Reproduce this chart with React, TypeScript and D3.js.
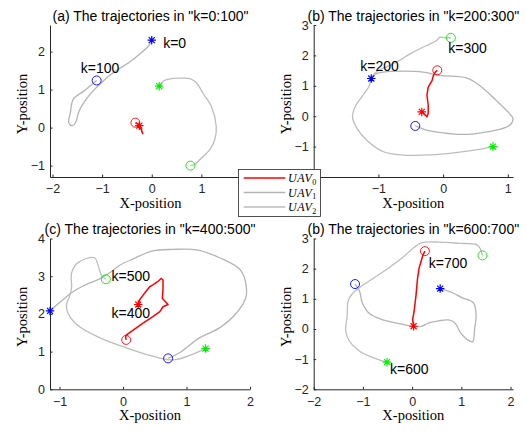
import React, { useRef, useEffect } from 'react'
import * as d3 from 'd3'

type P = [number, number]

// ---- (a) k=0:100
const uav0A: P[] = [[-0.25, 0.05], [-0.22, 0.0], [-0.2, -0.1], [-0.18, -0.16], [-0.21, -0.05], [-0.26, 0.02], [-0.24, 0.07], [-0.29, 0.1], [-0.33, 0.13]]
const uav1A: P[] = [[0, 2.3], [-0.07, 2.14], [-0.23, 1.95], [-0.43, 1.74], [-0.63, 1.57], [-0.83, 1.39], [-1.0, 1.2], [-1.17, 0.98], [-1.33, 0.73], [-1.47, 0.42], [-1.53, 0.14], [-1.6, 0.05], [-1.67, 0.12], [-1.64, 0.39], [-1.58, 0.75], [-1.37, 0.96], [-1.11, 1.24]]
const uav2A: P[] = [[0.15, 1.09], [0.23, 1.22], [0.37, 1.28], [0.57, 1.3], [0.77, 1.29], [0.9, 1.18], [1.03, 0.91], [1.2, 0.56], [1.3, 0.03], [1.27, -0.32], [1.17, -0.58], [0.97, -0.84], [0.87, -0.97], [0.78, -1.0]]
const labelsA = [{ text: 'k=0', x: 0.23, y: 2.24 }, { text: 'k=100', x: -1.43, y: 1.57 }]

// ---- (b) k=200:300
const uav0B: P[] = [[-0.33, 0.14], [-0.3, 0.09], [-0.25, -0.02], [-0.23, 0.09], [-0.23, 0.36], [-0.25, 0.69], [-0.23, 0.96], [-0.17, 1.18], [-0.15, 1.34], [-0.12, 1.45], [-0.09, 1.51]]
const uav1B: P[] = [[-1.11, 1.24], [-1.05, 1.38], [-0.92, 1.45], [-0.62, 1.48], [-0.31, 1.45], [-0.05, 1.34], [0.36, 1.26], [0.56, 1.02], [0.82, 0.52], [1.05, 0.03], [1.08, -0.08], [1.03, -0.3], [0.82, -0.46], [0.51, -0.57], [0.26, -0.6], [0, -0.55], [-0.26, -0.46], [-0.36, -0.38], [-0.43, -0.32]]
const uav2B: P[] = [[0.77, -1.0], [0.51, -1.11], [0.1, -1.22], [-0.31, -1.28], [-0.62, -1.28], [-0.92, -1.17], [-1.18, -0.79], [-1.33, -0.4], [-1.4, -0.04], [-1.36, 0.31], [-1.26, 0.63], [-1.15, 0.96], [-1.1, 1.29], [-1.0, 1.51], [-0.82, 1.67], [-0.67, 1.84], [-0.51, 2.05], [-0.36, 2.22], [-0.2, 2.38], [-0.1, 2.49], [-0.05, 2.6], [0.03, 2.58], [0.12, 2.58]]
const labelsB = [{ text: 'k=200', x: -1.28, y: 1.64 }, { text: 'k=300', x: 0.08, y: 2.23 }]

// ---- (c) k=400:500
const uav0C: P[] = [[0.24, 2.25], [0.26, 2.37], [0.34, 2.55], [0.42, 2.72], [0.47, 2.77], [0.55, 2.86], [0.6, 2.94], [0.63, 2.9], [0.63, 2.68], [0.62, 2.41], [0.71, 2.25], [0.63, 2.19], [0.58, 2.06], [0.47, 1.93], [0.31, 1.75], [0.16, 1.57], [0.05, 1.44], [0.04, 1.37], [0.05, 1.31]]
const uav1C: P[] = [[-1.15, 2.08], [-0.97, 2.34], [-0.81, 2.56], [-0.63, 2.74], [-0.37, 2.93], [-0.21, 3.09], [-0.05, 3.29], [0.16, 3.46], [0.47, 3.67], [0.79, 3.71], [1.16, 3.7], [1.52, 3.49], [1.86, 3.14], [1.94, 2.47], [1.79, 2.03], [1.52, 1.63], [1.21, 1.37], [0.89, 0.97], [0.71, 0.82]]
const uav2C: P[] = [[1.3, 1.08], [0.79, 0.78], [0.47, 0.88], [0.05, 1.1], [-0.37, 1.37], [-0.73, 1.72], [-0.87, 2.03], [-0.89, 2.25], [-0.84, 2.47], [-0.81, 2.7], [-0.81, 3.09], [-0.71, 3.36], [-0.45, 3.49], [-0.39, 3.27], [-0.34, 3.02], [-0.27, 2.92]]
const labelsC = [{ text: 'k=500', x: -0.18, y: 3.0 }, { text: 'k=400', x: -0.18, y: 2.03 }]

// ---- (d) k=600:700
const uav0D: P[] = [[0.03, 0.09], [0.01, 0.31], [0.04, 0.58], [0.08, 1.13], [0.11, 1.68], [0.14, 2.01], [0.18, 2.23], [0.22, 2.45], [0.26, 2.58]]
const uav1D: P[] = [[0.57, 1.34], [0.81, 1.21], [1.01, 1.04], [1.25, 0.86], [1.3, 0.44], [1.27, 0.0], [1.23, -0.42], [1.12, -0.35], [0.98, -0.11], [0.87, 0.2], [0.74, 0.3], [0.54, 0.27], [0.34, 0.2], [0.19, 0.09], [0.03, 0.08], [-0.2, 0.16], [-0.61, 0.31], [-0.88, 0.53], [-1.01, 0.86], [-1.07, 1.26], [-1.16, 1.49]]
const uav2D: P[] = [[-0.51, -1.1], [-0.81, -0.94], [-1.08, -0.72], [-1.28, -0.39], [-1.35, -0.06], [-1.32, 0.44], [-1.3, 0.93], [-1.22, 1.16], [-1.02, 1.43], [-0.74, 1.73], [-0.47, 2.03], [-0.2, 2.36], [0.03, 2.69], [0.2, 2.86], [0.54, 2.88], [0.95, 2.84], [1.32, 2.79], [1.39, 2.64], [1.43, 2.44]]
const labelsD = [{ text: 'k=700', x: 0.34, y: 2.2 }, { text: 'k=600', x: -0.45, y: -1.31 }]

const titles = ['(a) The trajectories in "k=0:100"', '(b) The trajectories in "k=200:300"', '(c) The trajectories in "k=400:500"', '(b) The trajectories in "k=600:700"']
// tick labels hidden behind the legend are left out
const xTicksA = [-2, -1, 0, 1]
const yTicksA = [-1, 0, 1, 2]
const xTicksB = [-1, 0, 1]
const yTicksB = [-1, 0, 1, 2, 3]
const xTicksC = [-1, 0, 1, 2]
const yTicksC = [0, 1, 2, 3, 4]
const xTicksD = [-2, -1, 0, 1, 2]
const yTicksD = [-2, -1, 0, 1, 2, 3]
const legendNames = ['0', '1', '2']

const RED = '#ff0000'
const GRAY1 = '#b4b4b4'
const GRAY2 = '#bdbdbd'
const BLUE = '#0000ff'
const GREEN = '#00ee00'
const SANS = 'Liberation Sans, Arial, sans-serif'
const SERIF = 'Liberation Serif, Times New Roman, serif'

const asterisk = {
    draw(ctx: any, size: number) {
        const r = Math.sqrt(size) / 2
        const d = r * 0.7071
        ctx.moveTo(-r, 0); ctx.lineTo(r, 0)
        ctx.moveTo(0, -r); ctx.lineTo(0, r)
        ctx.moveTo(-d, -d); ctx.lineTo(d, d)
        ctx.moveTo(-d, d); ctx.lineTo(d, -d)
    }
}

export default function App() {
    const svgRef = useRef<SVGSVGElement>(null)

    useEffect(() => {
        if (!svgRef.current) return
        const svg = d3.select(svgRef.current)
        svg.selectAll('*').remove()

        const panels = [
            { title: titles[0], xd: [-2.05, 2], yd: [-1.3, 2.7], x0: 50, x1: 251, y0: 25, y1: 177, xt: xTicksA, yt: yTicksA, u0: uav0A, u1: uav1A, u2: uav2A, labels: labelsA },
            { title: titles[1], xd: [-2, 1.08], yd: [-2, 3], x0: 313.7, x1: 513, y0: 25, y1: 177, xt: xTicksB, yt: yTicksB, u0: uav0B, u1: uav1B, u2: uav2B, labels: labelsB },
            { title: titles[2], xd: [-1.15, 2], yd: [0, 4], x0: 50, x1: 250, y0: 238.5, y1: 389.3, xt: xTicksC, yt: yTicksC, u0: uav0C, u1: uav1C, u2: uav2C, labels: labelsC },
            { title: titles[3], xd: [-2, 2.05], yd: [-2, 3], x0: 313.7, x1: 513, y0: 238.5, y1: 389.3, xt: xTicksD, yt: yTicksD, u0: uav0D, u1: uav1D, u2: uav2D, labels: labelsD },
        ]

        panels.forEach(p => {
            const x = d3.scaleLinear().domain(p.xd).range([p.x0, p.x1])
            const y = d3.scaleLinear().domain(p.yd).range([p.y1, p.y0])
            const g = svg.append('g')

            // axes
            g.append('g')
                .attr('transform', `translate(0,${p.y1})`)
                .call(d3.axisBottom(x).tickValues(p.xt).tickSize(-2.5).tickPadding(5).tickSizeOuter(0).tickFormat(d3.format('d')))
                .call(a => a.selectAll('line').attr('stroke', '#262626'))
                .call(a => a.select('.domain').attr('stroke', '#262626'))
                .call(a => a.selectAll('text').attr('fill', '#262626').style('font-family', SANS).style('font-size', '12.5px').attr('dy', '0.9em'))
            g.append('g')
                .attr('transform', `translate(${p.x0},0)`)
                .call(d3.axisLeft(y).tickValues(p.yt).tickSize(-2.5).tickPadding(5).tickSizeOuter(0).tickFormat(d3.format('d')))
                .call(a => a.selectAll('line').attr('stroke', '#262626'))
                .call(a => a.select('.domain').attr('stroke', '#262626'))
                .call(a => a.selectAll('text').attr('fill', '#262626').style('font-family', SANS).style('font-size', '12.5px'))

            g.append('text')
                .attr('x', (p.x0 + p.x1) / 2).attr('y', p.y0 - 4.5)
                .attr('text-anchor', 'middle')
                .style('font-family', SANS).style('font-size', '14px')
                .text(p.title)
            g.append('text')
                .attr('x', (p.x0 + p.x1) / 2).attr('y', p.y1 + 31)
                .attr('text-anchor', 'middle')
                .style('font-family', SERIF).style('font-size', '14.5px')
                .text('X-position')
            g.append('text')
                .attr('transform', `translate(${p.x0 - 23},${(p.y0 + p.y1) / 2 + 3}) rotate(-90)`)
                .attr('text-anchor', 'middle')
                .style('font-family', SERIF).style('font-size', '14.5px')
                .text('Y-position')

            const smooth = d3.line<P>().x(d => x(d[0])).y(d => y(d[1])).curve(d3.curveCatmullRom.alpha(0.5))
            const straight = d3.line<P>().x(d => x(d[0])).y(d => y(d[1]))

            g.append('path').datum(p.u1).attr('d', smooth).attr('fill', 'none').attr('stroke', GRAY1).attr('stroke-width', 1.3)
            g.append('path').datum(p.u2).attr('d', smooth).attr('fill', 'none').attr('stroke', GRAY2).attr('stroke-width', 1.3)
            g.append('path').datum(p.u0).attr('d', straight).attr('fill', 'none').attr('stroke', RED).attr('stroke-width', 1.5).attr('stroke-linejoin', 'round')

            const series: [P[], string][] = [[p.u0, RED], [p.u1, BLUE], [p.u2, GREEN]]
            series.forEach(([s, c]) => {
                const start = s[0]
                const end = s[s.length - 1]
                g.append('path')
                    .attr('d', d3.symbol().type(asterisk as any).size(72)())
                    .attr('transform', `translate(${x(start[0])},${y(start[1])})`)
                    .attr('fill', 'none').attr('stroke', c).attr('stroke-width', 1.2)
                g.append('circle')
                    .attr('cx', x(end[0])).attr('cy', y(end[1])).attr('r', 4.5)
                    .attr('fill', 'none').attr('stroke', c).attr('stroke-width', 0.9)
            })

            p.labels.forEach(l => {
                g.append('text')
                    .attr('x', x(l.x)).attr('y', y(l.y))
                    .attr('dy', '0.36em')
                    .style('font-family', SANS).style('font-size', '14px')
                    .text(l.text)
            })
        })

        // legend
        const lg = svg.append('g')
        lg.append('rect').attr('x', 238.5).attr('y', 169.5).attr('width', 82).attr('height', 47)
            .attr('fill', '#fff').attr('stroke', '#262626').attr('stroke-width', 0.8)
        const legendColors = [RED, GRAY1, GRAY2]
        legendNames.forEach((n, i) => {
            const ly = 178 + i * 14.5
            lg.append('line').attr('x1', 243.7).attr('x2', 285.3).attr('y1', ly).attr('y2', ly)
                .attr('stroke', legendColors[i]).attr('stroke-width', i === 0 ? 1.5 : 1.3)
            const t = lg.append('text').attr('x', 288).attr('y', ly + 4)
                .style('font-family', SERIF).style('font-size', '12px').style('font-style', 'italic')
                .attr('letter-spacing', '0.5')
            t.append('tspan').text('UAV')
            t.append('tspan').attr('dy', 2.5).style('font-size', '8px').style('font-style', 'normal').text(n)
        })
    }, [])

    return (
        <div style={{ position: 'absolute', left: 0, top: 0, width: 526, height: 432, background: '#fff' }}>
            <svg ref={svgRef} width={526} height={432} style={{ display: 'block' }} />
        </div>
    )
}
